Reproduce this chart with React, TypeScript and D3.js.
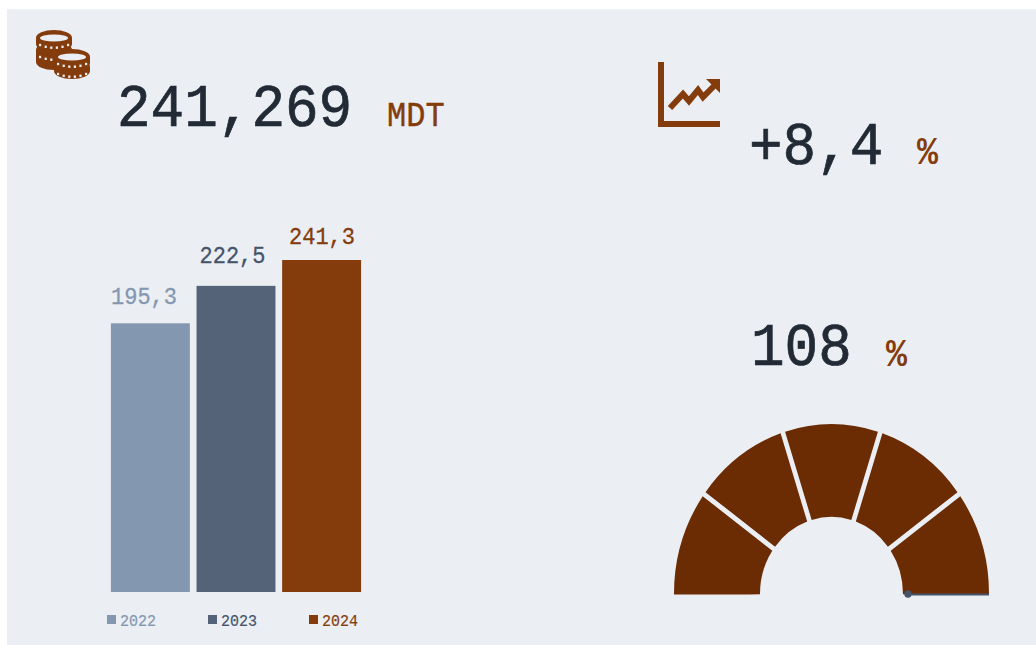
import React from "react";
import * as d3 from "d3";

const years = ["2022", "2023", "2024"];
const revenue = [195.3, 222.5, 241.3];
const barLabels = ["195,3", "222,5", "241,3"];
const barColors = ["#8497b0", "#556379", "#843c0c"];
const labelColors = ["#8497b0", "#44546a", "#843c0c"];
const labelCenters = [144, 232.5, 322];
const labelBaselines = [304, 263, 244];
const gaugeSegments = [1, 1, 1, 1, 1];

const FONT = "'Liberation Mono', monospace";
const DARK = "#222a35";
const BROWN = "#843c0c";
const BG = "#ebeef3";

const x = d3.scaleBand<string>().domain(years).range([107.5, 364.5]).paddingInner(0.078).paddingOuter(0.04);
const y = d3.scaleLinear().domain([0, 241.3]).range([592, 260]);

const pie = d3.pie<number>().sort(null).startAngle(-Math.PI / 2).endAngle(Math.PI / 2);
const arc = d3.arc<d3.PieArcDatum<number>>().innerRadius(71.5).outerRadius(157.5).padAngle(0.03).padRadius(157.5);

function Coin({ cx, cy, h = 11, top = true }: { cx: number; cy: number; h?: number; top?: boolean }) {
  const dots = d3.range(-14, 15, 5.6);
  return (
    <g>
      <path
        d={`M${cx - 18},${cy} A18,8 0 0 1 ${cx + 18},${cy} L${cx + 18},${cy + h} A18,8 0 0 1 ${cx - 18},${cy + h} Z`}
        fill={BROWN}
      />
      {top && <ellipse cx={cx} cy={cy} rx={14} ry={3.6} fill={BG} />}
      {dots.map((d) => (
        <rect key={d} x={cx + d - 1} y={cy + 8.6 - (Math.abs(d) * Math.abs(d)) / 70} width={2.2} height={2.4} fill={BG} />
      ))}
    </g>
  );
}

function Coins() {
  return (
    <g>
      <Coin cx={54} cy={50} h={12} top={false} />
      <Coin cx={54} cy={38} h={6} />
      <Coin cx={72} cy={67} h={4} top={false} />
      <Coin cx={72} cy={57} h={6} />
    </g>
  );
}

function T({ x, y, size, fill, children, anchor, weight }: any) {
  // The reference face is taller than Liberation Mono for the same advance.
  return (
    <text
      transform={`translate(${x},${y}) scale(1,1.1)`}
      fontSize={size}
      fill={fill}
      textAnchor={anchor}
      fontWeight={weight}
      stroke={weight ? "none" : fill}
      strokeWidth={size * 0.012}
    >
      {children}
    </text>
  );
}

export default function App() {
  const slices = pie(gaugeSegments);
  const last = slices.length - 1;
  return (
    <svg
      width={1036}
      height={645}
      style={{ position: "absolute", left: 0, top: 0, display: "block", fontFamily: FONT }}
    >
      <defs>
        <clipPath id="gauge-clip">
          <rect x={660} y={410} width={340} height={184.5} />
        </clipPath>
      </defs>
      <rect x={0} y={0} width={1036} height={645} fill="#ffffff" />
      <rect x={7} y={9} width={1029} height={636} fill={BG} />

      <Coins />

      <T x={117} y={126} size={56} fill={DARK}>241,269</T>
      <T x={387} y={126} size={32} fill={BROWN}>MDT</T>

      <g fill={BROWN} stroke="none">
        <path d="M658,62 H664 V121 H720 V127 H658 Z" />
        <path d="M706,79 H720 V93 Z" />
      </g>
      <path
        d="M670,108 L683,94 L689,101 L698,90 L703,97 L715,85"
        fill="none"
        stroke={BROWN}
        strokeWidth={6}
      />

      <T x={749} y={164} size={56} fill={DARK}>+8,4</T>
      <T x={917} y={164} size={35} fill={BROWN} weight="bold">%</T>

      {revenue.map((v, i) => (
        <g key={years[i]}>
          <rect x={x(years[i])} y={y(v)} width={x.bandwidth()} height={y(0) - y(v)} fill={barColors[i]} />
          <T x={labelCenters[i]} y={labelBaselines[i]} anchor="middle" size={22} fill={labelColors[i]}>
            {barLabels[i]}
          </T>
        </g>
      ))}

      {years.map((yr, i) => (
        <g key={yr} transform={`translate(${107 + i * 101},615)`}>
          <rect width={9} height={9} fill={barColors[i]} />
          <T x={13} y={11} size={15} fill={labelColors[i]}>{yr}</T>
        </g>
      ))}

      <T x={751} y={365} size={56} fill={DARK}>108</T>
      <T x={886} y={366} size={35} fill={BROWN} weight="bold">%</T>

      <g clipPath="url(#gauge-clip)">
        <g transform="translate(831.5,594) scale(1,1.078)">
          {slices.map((s, i) => {
            const d = {
              ...s,
              startAngle: i === 0 ? s.startAngle - 0.04 : s.startAngle,
              endAngle: i === last ? s.endAngle + 0.04 : s.endAngle,
            };
            return <path key={i} d={arc(d) ?? ""} fill="#6b2c03" />;
          })}
        </g>
      </g>
      <line x1={908} x2={989} y1={594.5} y2={594.5} stroke="#44546a" strokeWidth={2} />
      <circle cx={908} cy={594} r={3.7} fill="#44546a" />
    </svg>
  );
}
